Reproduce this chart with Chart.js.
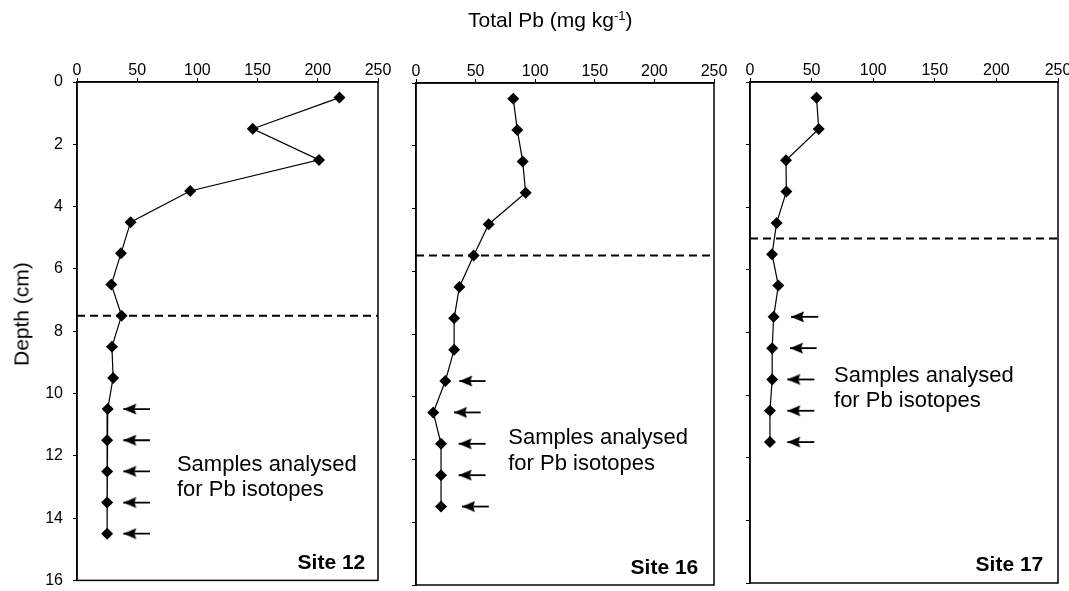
<!DOCTYPE html>
<html><head><meta charset="utf-8">
<script src="https://cdn.jsdelivr.net/npm/chart.js@4.4.1/dist/chart.umd.min.js"></script>
<style>
html,body{margin:0;padding:0;background:#fff;width:1069px;height:591px;overflow:hidden;position:relative;font-family:"Liberation Sans",Arial,sans-serif;color:#000;}
canvas{position:absolute;top:0;}
#title{position:absolute;left:468px;top:9px;font-size:21px;line-height:21px;white-space:nowrap;z-index:5;}
#title .sup{font-size:13px;position:relative;top:-7px;}
#ytitle{position:absolute;left:21px;top:314px;font-size:21px;line-height:21px;white-space:nowrap;transform:translate(-50%,-50%) rotate(-90deg);z-index:5;}
</style></head><body>
<div id="title">Total Pb (mg kg<span class="sup">-1</span>)</div>
<div id="ytitle">Depth (cm)</div>
<canvas id="c1" width="400" height="600" style="left:0px"></canvas>
<canvas id="c2" width="340" height="600" style="left:395px"></canvas>
<canvas id="c3" width="340" height="600" style="left:735px"></canvas>
<script>
// ---------- data ----------
const xTicks = [0, 50, 100, 150, 200, 250];
const yTicks = [0, 2, 4, 6, 8, 10, 12, 14, 16];

const depth12 = [0.5, 1.5, 2.5, 3.5, 4.5, 5.5, 6.5, 7.5, 8.5, 9.5, 10.5, 11.5, 12.5, 13.5, 14.5];
const pb12    = [218, 146, 201, 94, 44.5, 36.5, 28.5, 37, 29, 30, 25.5, 25, 25, 25, 25];
const depth16 = [0.5, 1.5, 2.5, 3.5, 4.5, 5.5, 6.5, 7.5, 8.5, 9.5, 10.5, 11.5, 12.5, 13.5];
const pb16    = [81.6, 85, 89.5, 92, 61, 48.4, 36.4, 32, 32, 24.6, 14.5, 21, 21, 21];
const depth17 = [0.5, 1.5, 2.5, 3.5, 4.5, 5.5, 6.5, 7.5, 8.5, 9.5, 10.5, 11.5];
const pb17    = [54, 55.8, 29.2, 29.5, 21.6, 17.9, 23, 19.2, 18, 18, 16.2, 16.2];

const boundary12 = 7.5;
const boundary16 = 5.5;
const boundary17 = 5.0;

const arrowDepth12 = [10.5, 11.5, 12.5, 13.5, 14.5];
const arrowTip12   = [38.5, 38.5, 38.5, 38.5, 38.5];
const arrowTail12  = [60.6, 60.6, 60.6, 60.6, 60.6];
const arrowDepth16 = [9.5, 10.5, 11.5, 12.5, 13.5];
const arrowTip16   = [36.3, 31.9, 35.8, 35.8, 38.6];
const arrowTail16  = [58.4, 54.3, 58.4, 58.4, 61.1];
const arrowDepth17 = [7.5, 8.5, 9.5, 10.5, 11.5];
const arrowTip17   = [33.3, 32.5, 30.3, 30.3, 30.3];
const arrowTail17  = [55.4, 54.1, 52.2, 52.2, 52.2];

const siteNames = ['Site 12', 'Site 16', 'Site 17'];
const noteLines = ['Samples analysed', 'for Pb isotopes'];

// ---------- helpers ----------
const FONT = '"Liberation Sans", Arial, sans-serif';

const arrowHead = document.createElement('canvas');
arrowHead.width = 30; arrowHead.height = 14;
(function(){
  const c = arrowHead.getContext('2d');
  c.fillStyle = '#000';
  c.beginPath();
  c.moveTo(15, 7); c.lineTo(28, 1.5); c.lineTo(26, 7); c.lineTo(28, 12.5); c.closePath();
  c.fill();
})();

const decor = {
  id: 'decor',
  afterDatasetsDraw(chart, args, o) {
    const {ctx, chartArea: a} = chart;
    const xs = chart.scales.x, ys = chart.scales.y;
    ctx.save();
    ctx.strokeStyle = '#000'; ctx.lineWidth = 1.5;
    ctx.strokeRect(a.left, a.top, a.right - a.left, a.bottom - a.top);
    ctx.fillStyle = '#000';
    ctx.font = '22px ' + FONT;
    ctx.textAlign = 'left'; ctx.textBaseline = 'alphabetic';
    const nx = xs.getPixelForValue(o.noteX), ny = ys.getPixelForValue(o.noteY);
    noteLines.forEach((t, i) => ctx.fillText(t, nx, ny + i * 25.7));
    ctx.font = 'bold 21px ' + FONT;
    ctx.textAlign = 'right';
    ctx.fillText(o.site, a.right - o.siteDx, a.bottom - o.siteDy);
    ctx.restore();
  }
};

function makePanel(id, p) {
  const pts = p.depth.map((d, i) => ({x: p.pb[i], y: d}));
  const datasets = [{
    data: pts, showLine: true, borderColor: '#000', borderWidth: 1.2,
    pointStyle: 'rectRot', pointRadius: 6, pointBackgroundColor: '#000',
    pointBorderColor: '#000', pointBorderWidth: 0
  }];
  datasets.push({
    data: [{x: 0, y: p.boundary}, {x: 250, y: p.boundary}], showLine: true,
    borderColor: '#000', borderWidth: 2, borderDash: [8, 5], pointRadius: 0
  });
  p.arrowDepth.forEach((d, i) => {
    datasets.push({
      data: [{x: p.arrowTip[i], y: d}, {x: p.arrowTail[i], y: d}], showLine: true,
      borderColor: '#000', borderWidth: 1.8,
      pointStyle: [arrowHead, 'circle'], pointRadius: [5, 0], pointBorderWidth: 0
    });
  });
  return new Chart(document.getElementById(id), {
    type: 'scatter',
    data: {datasets},
    plugins: [decor],
    options: {
      responsive: false, animation: false, events: [],
      layout: {padding: {left: 0, top: 0, right: p.padRight, bottom: p.padBottom}},
      plugins: {legend: {display: false}, tooltip: {enabled: false},
        decor: {noteX: p.noteX, noteY: p.noteY, site: p.site, siteDx: p.siteDx, siteDy: p.siteDy}},
      scales: {
        x: {
          type: 'linear', position: 'top', min: 0, max: 250,
          afterBuildTicks: s => { s.ticks = xTicks.map(v => ({value: v})); },
          afterFit: s => { s.height = p.xH; },
          grid: {display: true, drawOnChartArea: false, drawTicks: true, tickLength: 4, color: '#000', lineWidth: 1},
          border: {display: true, color: '#000', width: 1.5},
          ticks: {color: '#000', font: {family: FONT, size: 16}, padding: -2, maxRotation: 0}
        },
        y: {
          type: 'linear', reverse: true, min: 0, max: 16,
          afterBuildTicks: s => { s.ticks = yTicks.map(v => ({value: v})); },
          afterFit: s => { s.width = p.yW; },
          grid: {display: true, drawOnChartArea: false, drawTicks: true, tickLength: 4, color: '#000', lineWidth: 1},
          border: {display: true, color: '#000', width: 1.5},
          ticks: {display: p.showY, color: '#000', font: {family: FONT, size: 16}, padding: 10}
        }
      }
    }
  });
}

makePanel('c1', {depth: depth12, pb: pb12, boundary: boundary12,
  arrowDepth: arrowDepth12, arrowTip: arrowTip12, arrowTail: arrowTail12,
  site: siteNames[0], showY: true, yW: 77, xH: 82, padRight: 22, padBottom: 17,
  noteX: 83, noteY: 12.48, siteDx: 12.7, siteDy: 11.3});
makePanel('c2', {depth: depth16, pb: pb16, boundary: boundary16,
  arrowDepth: arrowDepth16, arrowTip: arrowTip16, arrowTail: arrowTail16,
  site: siteNames[1], showY: false, yW: 21, xH: 83, padRight: 21, padBottom: 15,
  noteX: 77.4, noteY: 11.52, siteDx: 15.7, siteDy: 11});
makePanel('c3', {depth: depth17, pb: pb17, boundary: boundary17,
  arrowDepth: arrowDepth17, arrowTip: arrowTip17, arrowTail: arrowTail17,
  site: siteNames[2], showY: false, yW: 15, xH: 82, padRight: 17, padBottom: 17,
  noteX: 68.2, noteY: 9.57, siteDx: 14.7, siteDy: 12.3});
</script>
</body></html>
